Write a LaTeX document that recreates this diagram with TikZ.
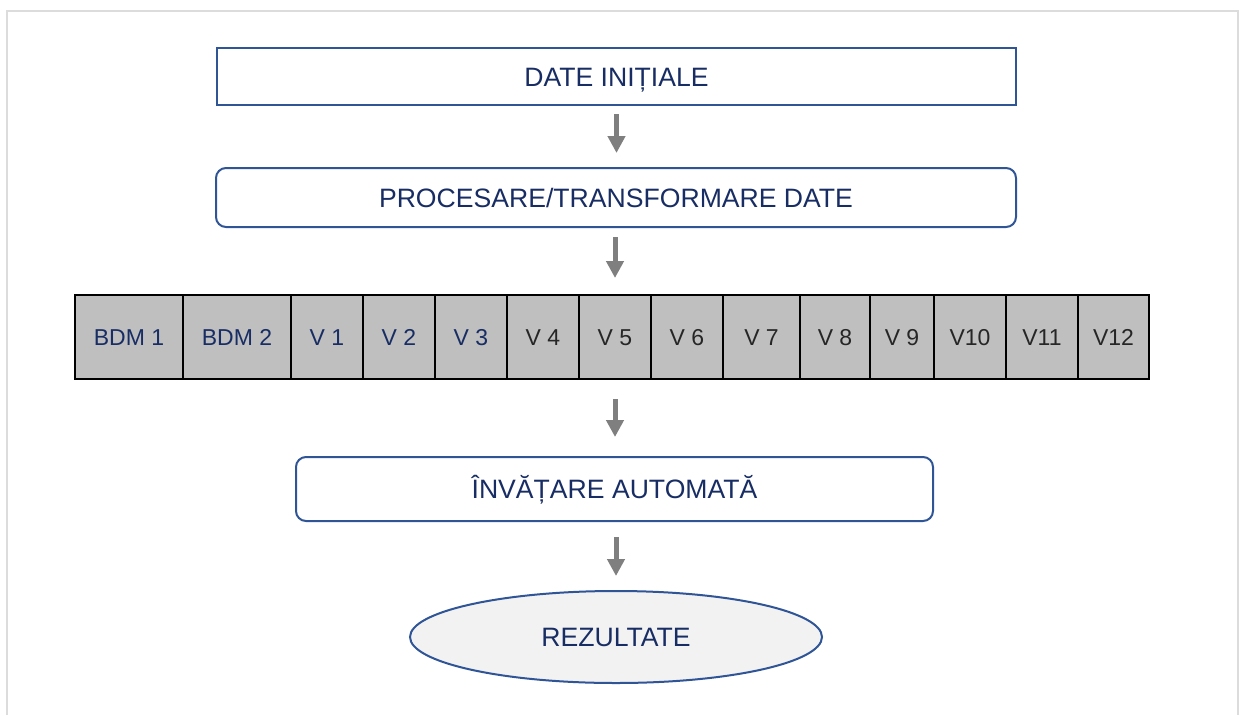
\documentclass[tikz,border=0pt]{standalone}
\usepackage{fontspec}
\setmainfont{Liberation Sans}
\usetikzlibrary{shapes.geometric,arrows.meta}
\definecolor{edgeblue}{RGB}{47,85,151}
\definecolor{textblue}{RGB}{24,45,100}
\definecolor{cellgray}{RGB}{191,191,191}
\definecolor{arrowgray}{RGB}{127,127,127}
\definecolor{framegray}{RGB}{220,220,220}
\definecolor{darktext}{RGB}{38,38,38}
\definecolor{ovalfill}{RGB}{242,242,242}
\begin{document}
\begin{tikzpicture}[x=1pt,y=-1pt,
  stage/.style={draw=edgeblue, line width=2pt, text=textblue, inner sep=0pt,
    font=\fontsize{26.6}{30}\selectfont, text height=19pt, text depth=0pt},
  roundstage/.style={stage, rounded corners=10pt},
  cell/.style={draw=black, line width=2pt, fill=cellgray, inner sep=0pt,
    minimum height=84, font=\fontsize{23}{27}\selectfont,
    text height=16.5pt, text depth=0pt},
  outcome/.style={stage, ellipse, fill=ovalfill},
  flow/.style={draw=arrowgray, line width=5pt,
    -{Triangle[width=17pt,length=17pt]}}
]
\useasboundingbox (0,0) rectangle (1241,715);
% outer frame
\draw[framegray, line width=1.5pt] (7,715) -- (7,11) -- (1238,11) -- (1238,715);

% pipeline stages
\node[stage, minimum width=799, minimum height=57] (init) at (616.5,76.5) {DATE INIȚIALE};
\node[roundstage, minimum width=800, minimum height=59] (proc) at (616,197.5) {PROCESARE/TRANSFORMARE DATE};

% data strip
\foreach \a/\b/\t/\c [count=\i] in {
  75/183/BDM 1/textblue, 183/291/BDM 2/textblue,
  291/363/V 1/textblue, 363/435/V 2/textblue, 435/507/V 3/textblue,
  507/579/V 4/darktext, 579/651/V 5/darktext, 651/723/V 6/darktext,
  723/800/V 7/darktext, 800/870/V 8/darktext, 870/934/V 9/darktext,
  934/1006/V10/darktext, 1006/1078/V11/darktext, 1078/1149/V12/darktext}
  \node[cell, text=\c, minimum width={\b-\a}] (c\i) at ({(\a+\b)/2},337) {\t};

\node[roundstage, minimum width=637, minimum height=64] (learn) at (614.5,489) {ÎNVĂȚARE AUTOMATĂ};
\node[outcome, minimum width=412, minimum height=92] (res) at (616,637) {REZULTATE};

% connectors
\draw[flow, shorten <=8pt, shorten >=14pt] (init.south) -- (init.south |- proc.north);
\draw[flow, shorten <=9pt, shorten >=16pt] (c7.north |- proc.south) -- (c7.north);
\draw[flow, shorten <=19pt, shorten >=19pt] (c7.south) -- (c7.south |- learn.north);
\draw[flow, shorten <=15pt, shorten >=14pt] (res.north |- learn.south) -- (res.north);
\end{tikzpicture}
\end{document}
